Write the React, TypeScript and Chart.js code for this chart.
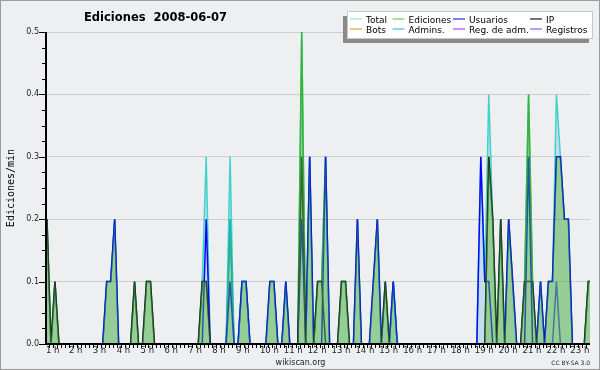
import React, { useEffect, useRef } from 'react';
import { Chart, registerables } from 'chart.js';

Chart.register(...registerables);

// ---- data: one value per 10-minute slot, starting at 1 h (6 slots per hour) ----
const HOUR_LABELS = ['1 h','2 h','3 h','4 h','5 h','6 h','7 h','8 h','9 h','10 h','11 h','12 h',
  '13 h','14 h','15 h','16 h','17 h','18 h','19 h','20 h','21 h','22 h','23 h'];

const SERIES_NAMES = ['Total', 'Ediciones', 'Usuarios', 'IP', 'Bots', 'Admins.', 'Reg. de adm.', 'Registros'];

const TOTAL = [
  0.2,0,0.1,0,0,0,   0,0,0,0,0,0,
  0,0,0,0.1,0.1,0.2, 0,0,0,0,0.1,0,
  0,0.1,0.1,0,0,0,   0,0,0,0,0,0,
  0,0,0,0.1,0.3,0,   0,0,0,0,0.3,0,
  0,0.1,0.1,0,0,0,   0,0,0.1,0.1,0,0,
  0.1,0,0,0,0.5,0,   0.3,0,0.1,0.1,0.3,0,
  0,0,0.1,0.1,0,0,   0.2,0,0,0,0.1,0.2,
  0,0.1,0,0.1,0,0,   0,0,0,0,0,0,
  0,0,0,0,0,0,       0,0,0,0,0,0,
  0,0.3,0.1,0.4,0.2,0, 0.2,0,0.2,0.1,0,0,
  0.1,0.4,0.1,0,0.1,0, 0.1,0.1,0.4,0.3,0.2,0.2,
  0,0,0,0,0.1,0.1,
];

const EDICIONES = [
  0.2,0,0.1,0,0,0,   0,0,0,0,0,0,
  0,0,0,0.1,0.1,0.2, 0,0,0,0,0.1,0,
  0,0.1,0.1,0,0,0,   0,0,0,0,0,0,
  0,0,0,0.1,0.1,0,   0,0,0,0,0.2,0,
  0,0.1,0.1,0,0,0,   0,0,0.1,0.1,0,0,
  0.1,0,0,0,0.5,0,   0.3,0,0.1,0.1,0.3,0,
  0,0,0.1,0.1,0,0,   0.2,0,0,0,0.1,0.2,
  0,0.1,0,0.1,0,0,   0,0,0,0,0,0,
  0,0,0,0,0,0,       0,0,0,0,0,0,
  0,0,0,0.3,0.2,0,   0.2,0,0.2,0.1,0,0,
  0.1,0.4,0.1,0,0.1,0, 0.1,0.1,0.3,0.3,0.2,0.2,
  0,0,0,0,0.1,0.1,
];

const USUARIOS = [
  0,0,0,0,0,0,       0,0,0,0,0,0,
  0,0,0,0.1,0.1,0.2, 0,0,0,0,0,0,
  0,0,0,0,0,0,       0,0,0,0,0,0,
  0,0,0,0,0.2,0,     0,0,0,0,0.1,0,
  0,0.1,0.1,0,0,0,   0,0,0.1,0.1,0,0,
  0.1,0,0,0,0.2,0,   0.3,0,0,0,0.3,0,
  0,0,0,0,0,0,       0.2,0,0,0,0.1,0.2,
  0,0,0,0.1,0,0,     0,0,0,0,0,0,
  0,0,0,0,0,0,       0,0,0,0,0,0,
  0,0.3,0.1,0.1,0,0, 0,0,0.2,0.1,0,0,
  0,0.3,0,0,0.1,0,   0.1,0.1,0.3,0.3,0.2,0.2,
  0,0,0,0,0,0,
];

const IP = [
  0.2,0,0.1,0,0,0,   0,0,0,0,0,0,
  0,0,0,0,0,0,       0,0,0,0,0.1,0,
  0,0.1,0.1,0,0,0,   0,0,0,0,0,0,
  0,0,0,0.1,0.1,0,   0,0,0,0,0,0,
  0,0,0,0,0,0,       0,0,0,0,0,0,
  0,0,0,0,0.3,0,     0,0,0.1,0.1,0,0,
  0,0,0.1,0.1,0,0,   0,0,0,0,0,0,
  0,0.1,0,0,0,0,     0,0,0,0,0,0,
  0,0,0,0,0,0,       0,0,0,0,0,0,
  0,0,0,0.3,0.2,0,   0.2,0,0,0,0,0,
  0.1,0.1,0.1,0,0,0, 0,0,0,0,0,0,
  0,0,0,0,0.1,0.1,
];

const BOTS = [
  0,0,0,0,0,0, 0,0,0,0,0,0, 0,0,0,0,0,0, 0,0,0,0,0,0,
  0,0,0,0,0,0, 0,0,0,0,0,0, 0,0,0,0,0,0, 0,0,0,0,0,0,
  0,0,0,0,0,0, 0,0,0,0,0,0, 0,0,0,0,0,0, 0,0,0,0,0,0,
  0,0,0,0,0,0, 0,0,0,0,0,0, 0,0,0,0,0,0, 0,0,0,0,0,0,
  0,0,0,0,0,0, 0,0,0,0,0,0, 0,0,0,0,0,0, 0,0,0,0,0,0,
  0,0,0,0,0,0, 0,0,0,0,0,0, 0,0,0,0,0,0,
];

const ADMINS = [
  0,0,0,0,0,0,       0,0,0,0,0,0,
  0,0,0,0,0,0,       0,0,0,0,0,0,
  0,0,0,0,0,0,       0,0,0,0,0,0,
  0,0,0,0,0,0,       0,0,0,0,0.2,0,
  0,0.1,0.1,0,0,0,   0,0,0,0,0,0,
  0,0,0,0,0,0,       0,0,0,0,0,0,
  0,0,0,0,0,0,       0,0,0,0,0,0,
  0,0,0,0.1,0,0,     0,0,0,0,0,0,
  0,0,0,0,0,0,       0,0,0,0,0,0,
  0,0,0,0,0,0,       0,0,0,0,0,0,
  0,0,0,0,0,0,       0,0,0,0,0,0,
  0,0,0,0,0,0,
];

const REG_ADM = [
  0,0,0,0,0,0, 0,0,0,0,0,0, 0,0,0,0,0,0, 0,0,0,0,0,0,
  0,0,0,0,0,0, 0,0,0,0,0,0, 0,0,0,0,0,0, 0,0,0,0,0,0,
  0,0,0,0,0,0, 0,0,0,0,0,0, 0,0,0,0,0,0, 0,0,0,0,0,0,
  0,0,0,0,0,0, 0,0,0,0,0,0, 0,0,0,0,0,0, 0,0,0,0,0,0,
  0,0,0,0,0,0, 0,0,0,0,0,0, 0,0,0,0,0,0, 0,0,0,0,0,0,
  0,0,0,0,0,0, 0,0,0,0,0,0, 0,0,0,0,0,0,
];

const REGISTROS = [
  0,0,0,0,0,0,       0,0,0,0,0,0,
  0,0,0,0,0,0,       0,0,0,0,0,0,
  0,0,0,0,0,0,       0,0,0,0,0,0,
  0,0,0,0,0,0,       0,0,0,0,0,0,
  0,0,0,0,0,0,       0,0,0,0,0,0,
  0,0,0,0,0,0,       0,0,0,0,0,0,
  0,0,0,0,0,0,       0,0,0,0,0,0,
  0,0,0,0,0,0,       0,0,0,0,0,0,
  0,0,0,0,0,0,       0,0,0,0,0,0,
  0,0,0,0,0,0,       0,0,0,0,0,0,
  0,0,0,0,0,0,       0,0,0.1,0,0,0,
  0,0,0,0,0,0,
];

// ---- styles ----
const LEGEND_COLORS = ['#9edede', '#6cc86c', '#2a2ae0', '#1a1a1a', '#f09a30', '#34bee0', '#c83cdc', '#6a6af0'];
const BG = '#eeeff1';
const FONT = '"DejaVu Sans", sans-serif';

const X_MIN = -0.25;
const X_MAX = X_MIN + 544 / 3.98;

const pts = (arr: number[]) => arr.map((y, i) => ({ x: i, y }));

const decor = {
  id: 'decor',
  beforeDraw(chart: any) {
    const { ctx, width, height } = chart;
    ctx.save();
    ctx.fillStyle = BG;
    ctx.fillRect(0, 0, width, height);
    ctx.restore();
  },
  afterDatasetsDraw(chart: any) {
    const { ctx, chartArea: a, scales } = chart;
    const xs = scales.x, ys = scales.y;
    ctx.save();
    ctx.strokeStyle = '#000';
    ctx.lineWidth = 1;
    ctx.beginPath();
    for (let i = 0; i <= 20; i++) {
      const py = Math.round(ys.getPixelForValue(i * 0.025)) + 0.5;
      const len = i % 4 === 0 ? 7 : 4;
      ctx.moveTo(a.left - len, py);
      ctx.lineTo(a.left, py);
    }
    for (let i = 0; i <= 140; i++) {
      const v = i - 0.5;
      if (v < X_MIN || v > X_MAX) continue;
      const px = Math.round(xs.getPixelForValue(v)) + 0.5;
      ctx.moveTo(px, a.bottom);
      ctx.lineTo(px, a.bottom + 4);
    }
    ctx.stroke();
    ctx.lineWidth = 2;
    ctx.beginPath();
    ctx.moveTo(a.left, a.top);
    ctx.lineTo(a.left, a.bottom + 1);
    ctx.moveTo(a.left - 1, a.bottom);
    ctx.lineTo(a.right, a.bottom);
    ctx.stroke();
    ctx.restore();
  },
  afterDraw(chart: any) {
    const { ctx, width, height } = chart;
    ctx.save();
    // title
    ctx.fillStyle = '#000';
    ctx.font = 'bold 11.5px ' + FONT;
    ctx.textAlign = 'left';
    ctx.textBaseline = 'alphabetic';
    ctx.fillText('Ediciones  2008-06-07', 84, 21);

    // legend box
    ctx.fillStyle = '#8a8a8a';
    ctx.fillRect(343, 16, 246, 27);
    ctx.fillStyle = '#ffffff';
    ctx.fillRect(347, 12, 246, 27);
    ctx.strokeStyle = '#c8c8c8';
    ctx.lineWidth = 1;
    ctx.strokeRect(347.5, 11.5, 245, 27);
    const colX = [350, 392.5, 453, 530];
    ctx.font = '9px ' + FONT;
    SERIES_NAMES.forEach((name, i) => {
      const col = i % 4;
      const row = Math.floor(i / 4);
      const lx = colX[col];
      const ly = row === 0 ? 19 : 29;
      ctx.strokeStyle = LEGEND_COLORS[i];
      ctx.lineWidth = 1.2;
      ctx.beginPath();
      ctx.moveTo(lx, ly);
      ctx.lineTo(lx + 12, ly);
      ctx.stroke();
      ctx.fillStyle = '#000';
      ctx.fillText(name, lx + 16, row === 0 ? 23 : 33);
    });

    // y-axis title
    ctx.save();
    ctx.translate(13.5, 188);
    ctx.rotate(-Math.PI / 2);
    ctx.font = '10px "DejaVu Sans Mono", monospace';
    ctx.textAlign = 'center';
    ctx.fillStyle = '#000';
    ctx.fillText('Ediciones/min', 0, 0);
    ctx.restore();

    // footer
    ctx.fillStyle = '#222';
    ctx.font = '8px ' + FONT;
    ctx.textAlign = 'center';
    ctx.fillText('wikiscan.org', 300.5, 365);
    ctx.font = '6px ' + FONT;
    ctx.textAlign = 'right';
    ctx.fillText('CC BY-SA 3.0', 590, 365);

    // outer border
    ctx.strokeStyle = '#9c9c9c';
    ctx.lineWidth = 1;
    ctx.strokeRect(0.5, 0.5, width - 1, height - 1);
    ctx.restore();
  },
};

export default function App() {
  const ref = useRef<HTMLCanvasElement | null>(null);
  useEffect(() => {
    if (!ref.current) return;
    const line = (label: string, data: number[], color: string, order: number, extra: any = {}) => ({
      label, data: pts(data), borderColor: color, backgroundColor: color, borderWidth: 1.5,
      pointRadius: 0, tension: 0, fill: false, order, ...extra,
    });
    const chart = new Chart(ref.current, {
      type: 'line',
      data: {
        datasets: [
          line('Total', TOTAL, '#3fd3c8', 9, { fill: { target: 1 }, backgroundColor: 'rgba(133,196,234,0.4)' }),
          line('Ediciones', EDICIONES, '#38b838', 8),
          line('Bots', BOTS, '#f0a040', 7),
          line('Reg. de adm.', REG_ADM, '#cc44dd', 6),
          line('Admins.', ADMINS, '#1ab0e4', 5),
          line('Registros', REGISTROS, '#4c4cf2', 4),
          line('Usuarios', USUARIOS, '#0808f8', 3),
          line('IP', IP, '#262626', 2),
          line('Ediciones area', EDICIONES, 'rgba(0,0,0,0)', 0, {
            fill: 'origin', backgroundColor: 'rgba(62,169,60,0.5)', borderWidth: 0,
          }),
        ],
      },
      options: {
        responsive: false,
        animation: false,
        devicePixelRatio: 1,
        layout: { padding: { top: 32, right: 10, left: 0, bottom: 0 } },
        plugins: { legend: { display: false }, title: { display: false }, tooltip: { enabled: false } },
        scales: {
          x: {
            type: 'linear',
            min: X_MIN,
            max: X_MAX,
            afterFit: (s: any) => { s.height = 26; },
            afterBuildTicks: (s: any) => {
              s.ticks = HOUR_LABELS.map((_, i) => ({ value: i === 0 ? X_MIN : i * 6 - 0.5 }));
            },
            grid: { display: false, drawTicks: false },
            border: { display: false },
            ticks: {
              autoSkip: false, maxRotation: 0, minRotation: 0, align: 'start', padding: 2,
              color: '#222', font: { family: FONT, size: 8.5 },
              callback: (_v: any, i: number) => HOUR_LABELS[i],
            },
          },
          y: {
            min: 0,
            max: 0.5,
            afterFit: (s: any) => { s.width = 46; },
            grid: {
              color: (c: any) => (c.tick && c.tick.value > 0.001 ? '#cdced0' : 'rgba(0,0,0,0)'),
              drawTicks: false, lineWidth: 1,
            },
            border: { display: false },
            ticks: {
              stepSize: 0.1, padding: 7, color: '#222', font: { family: FONT, size: 8 },
              callback: (v: any) => Number(v).toFixed(1),
            },
          },
        },
      } as any,
      plugins: [decor],
    });
    return () => chart.destroy();
  }, []);
  return (
    <div style={{ position: 'fixed', left: 0, top: 0, width: 600, height: 370 }}>
      <canvas ref={ref} width={600} height={370} style={{ display: 'block' }} />
    </div>
  );
}
